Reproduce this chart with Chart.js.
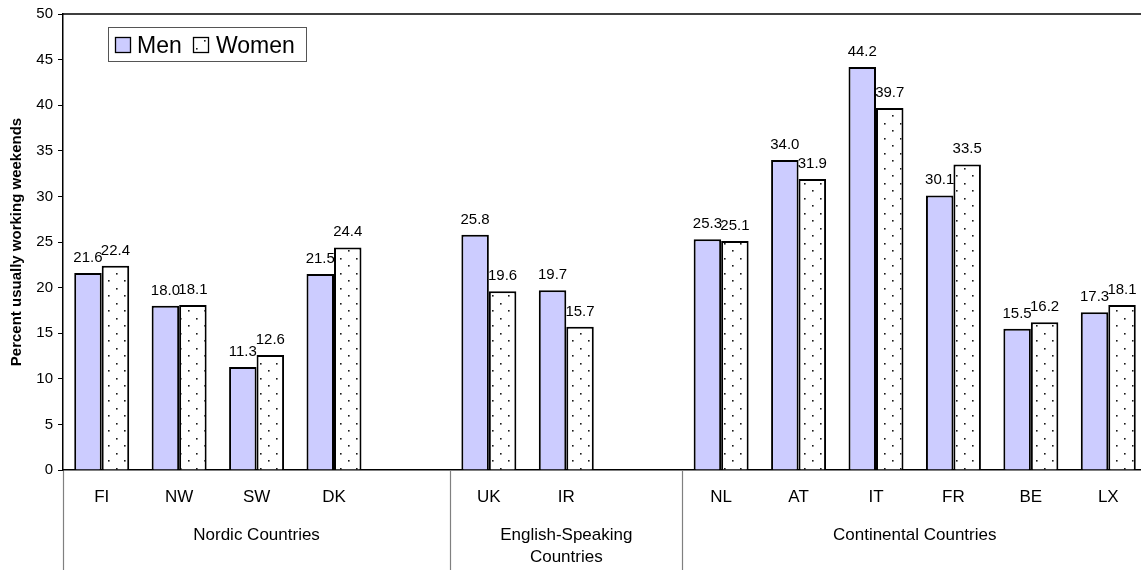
<!DOCTYPE html>
<html>
<head>
<meta charset="utf-8">
<script src="https://cdn.jsdelivr.net/npm/chart.js@4/dist/chart.umd.min.js"></script>
<style>
  html, body { margin: 0; padding: 0; background: #ffffff; overflow: hidden; }
  #wrap { width: 1148px; height: 570px; position: relative; }
</style>
</head>
<body>
<div id="wrap"><canvas id="c" width="1148" height="570"></canvas></div>
<script>
// ---- data ----
const categories = ['FI', 'NW', 'SW', 'DK', '', 'UK', 'IR', '', 'NL', 'AT', 'IT', 'FR', 'BE', 'LX'];
const menValues   = [21.6, 18.0, 11.3, 21.5, null, 25.8, 19.7, null, 25.3, 34.0, 44.2, 30.1, 15.5, 17.3];
const womenValues = [22.4, 18.1, 12.6, 24.4, null, 19.6, 15.7, null, 25.1, 31.9, 39.7, 33.5, 16.2, 18.1];
const seriesNames = ['Men', 'Women'];
const groupNames  = [['Nordic Countries'], ['English-Speaking', 'Countries'], ['Continental Countries']];
const groupStart  = [0, 5, 8];
const groupEnd    = [5, 8, 14];
const yTicks      = [0, 5, 10, 15, 20, 25, 30, 35, 40, 45, 50];
const yTitle      = 'Percent usually working weekends';

const FONT = "'Liberation Sans', Arial, Helvetica, sans-serif";
const MEN_FILL = '#ccccff';

function makeDots() {
  const t = document.createElement('canvas');
  t.width = 16; t.height = 15;
  const g = t.getContext('2d');
  g.fillStyle = '#ffffff';
  g.fillRect(0, 0, 16, 15);
  g.fillStyle = '#1a1a1a';
  g.fillRect(4, 3, 1.6, 1.6);
  g.fillRect(12, 10, 1.6, 1.6);
  return g.createPattern(t, 'repeat');
}
const ctx0 = document.getElementById('c').getContext('2d');
const dotPattern = makeDots();

const decorPlugin = {
  id: 'decor',
  afterDatasetsDraw(chart) {
    const ctx = chart.ctx;
    const area = chart.chartArea;
    const xs = chart.scales.x;
    const w = (xs.getPixelForValue(1) - xs.getPixelForValue(0));
    const boundary = i => xs.getPixelForValue(0) - w / 2 + i * w;

    ctx.save();
    // top / right border
    ctx.strokeStyle = '#000000';
    ctx.lineWidth = 1.5;
    ctx.beginPath();
    ctx.moveTo(area.left, area.top);
    ctx.lineTo(area.right, area.top);
    ctx.lineTo(area.right, area.bottom);
    ctx.stroke();

    // group separators below axis
    ctx.strokeStyle = '#808080';
    ctx.lineWidth = 1.2;
    const bounds = new Set();
    groupStart.forEach(s => bounds.add(s));
    groupEnd.forEach(e => bounds.add(e));
    bounds.forEach(b => {
      const x = Math.round(boundary(b)) + 0.5;
      ctx.beginPath();
      ctx.moveTo(x, area.bottom + 1);
      ctx.lineTo(x, chart.height);
      ctx.stroke();
    });

    // group labels
    ctx.fillStyle = '#000000';
    ctx.font = '17px ' + FONT;
    ctx.textAlign = 'center';
    ctx.textBaseline = 'middle';
    groupNames.forEach((lines, gi) => {
      const cx = (boundary(groupStart[gi]) + boundary(groupEnd[gi])) / 2;
      lines.forEach((ln, li) => {
        ctx.fillText(ln, cx, 535 + li * 22);
      });
    });

    // value labels
    ctx.font = '15px ' + FONT;
    ctx.textBaseline = 'alphabetic';
    chart.data.datasets.forEach((ds, di) => {
      const meta = chart.getDatasetMeta(di);
      meta.data.forEach((bar, i) => {
        const v = ds.data[i];
        if (v === null || v === undefined) return;
        ctx.fillText(v.toFixed(1), bar.x, bar.y - 11);
      });
    });

    // y title
    ctx.font = 'bold 15px ' + FONT;
    ctx.textAlign = 'center';
    ctx.textBaseline = 'middle';
    ctx.translate(17, (area.top + area.bottom) / 2);
    ctx.rotate(-Math.PI / 2);
    ctx.fillText(yTitle, 0, 0);
    ctx.restore();

    // legend box
    ctx.save();
    const lx = 108, ly = 27, lw = 198, lh = 34;
    ctx.fillStyle = '#ffffff';
    ctx.fillRect(lx, ly, lw, lh);
    ctx.strokeStyle = '#555555';
    ctx.lineWidth = 1;
    ctx.strokeRect(lx + 0.5, ly + 0.5, lw, lh);
    // men swatch
    ctx.fillStyle = MEN_FILL;
    ctx.fillRect(115, 37, 15, 15);
    ctx.strokeStyle = '#000000';
    ctx.lineWidth = 1.3;
    ctx.strokeRect(115.5, 37.5, 15, 15);
    // women swatch
    ctx.fillStyle = dotPattern;
    ctx.fillRect(193, 37, 15, 15);
    ctx.strokeRect(193.5, 37.5, 15, 15);
    ctx.fillStyle = '#000000';
    ctx.font = '23px ' + FONT;
    ctx.textAlign = 'left';
    ctx.textBaseline = 'alphabetic';
    ctx.fillText(seriesNames[0], 137, 53);
    ctx.fillText(seriesNames[1], 216, 53);
    ctx.restore();
  }
};

new Chart(ctx0, {
  type: 'bar',
  data: {
    labels: categories,
    datasets: [
      { label: seriesNames[0], data: menValues, backgroundColor: MEN_FILL,
        borderColor: '#000000', borderWidth: 2, categoryPercentage: 0.71, barPercentage: 1.0 },
      { label: seriesNames[1], data: womenValues, backgroundColor: dotPattern,
        borderColor: '#000000', borderWidth: 2, categoryPercentage: 0.71, barPercentage: 1.0 }
    ]
  },
  options: {
    responsive: false,
    animation: false,
    events: [],
    layout: { padding: { top: 12, right: 1, left: 0, bottom: 0 } },
    plugins: { legend: { display: false }, tooltip: { enabled: false } },
    scales: {
      x: {
        offset: true,
        grid: { display: false, drawTicks: false },
        border: { display: true, color: '#000000', width: 1.5 },
        ticks: { color: '#000000', font: { family: FONT, size: 17 }, padding: 17, autoSkip: false, maxRotation: 0 },
        afterFit(scale) { scale.height = 100; }
      },
      y: {
        min: 0, max: 50,
        afterBuildTicks(scale) { scale.ticks = yTicks.map(v => ({ value: v })); },
        grid: { drawOnChartArea: false, drawTicks: true, tickLength: 5, color: '#000000', lineWidth: 1 },
        border: { display: true, color: '#000000', width: 1.5 },
        ticks: { color: '#000000', font: { family: FONT, size: 15 }, padding: 5 },
        afterFit(scale) { scale.width = 63; }
      }
    }
  },
  plugins: [decorPlugin]
});
</script>
</body>
</html>
